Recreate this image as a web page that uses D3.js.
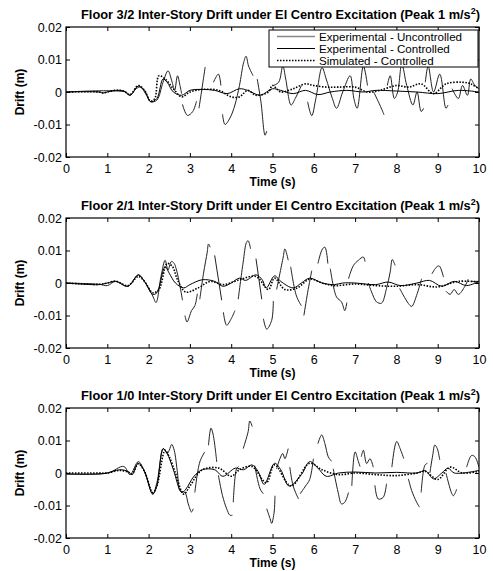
<!DOCTYPE html>
<html><head><meta charset="utf-8">
<script src="https://cdn.jsdelivr.net/npm/d3@7"></script>
<style>body{margin:0;background:#fff}svg{display:block}</style>
</head><body>
<script>
// ---------- data (time s, drift m); null = gap in trace ----------
const titles = ["Floor 3/2 Inter-Story Drift under El Centro Excitation (Peak 1 m/s",
                "Floor 2/1 Inter-Story Drift under El Centro Excitation (Peak 1 m/s",
                "Floor 1/0 Inter-Story Drift under El Centro Excitation (Peak 1 m/s"];
const xTicks = [0,1,2,3,4,5,6,7,8,9,10];
const yTicks = [-0.02,-0.01,0,0.01,0.02];
const yTickLabels = ["-0.02","-0.01","0","0.01","0.02"];
const legendLabels = ["Experimental - Uncontrolled","Experimental - Controlled","Simulated - Controlled"];

const p1Controlled = [[0,0],[0.8,0],[0.9,-0.0003],[1.0,0],[1.2,0.0005],[1.4,0.0003],[1.55,-0.001],[1.75,0.0018],[1.9,0.0005],[2.05,-0.003],[2.2,-0.002],[2.35,0.004],[2.45,0.003],[2.6,0],[2.8,-0.001],[3.0,0.0005],[3.3,0.0008],[3.6,0.0005],[3.9,-0.0005],[4.2,0.001],[4.4,0.0005],[4.7,-0.001],[5.0,0.001],[5.2,0.0005],[5.5,-0.0005],[5.8,0.0005],[6.1,-0.0008],[6.4,0],[6.8,0.0005],[7.2,0],[7.5,0.0005],[8.0,0.0003],[8.5,0],[9.0,-0.0005],[9.5,0.0005],[10,0]];
const p1Simulated = [[0,0],[0.8,0],[0.9,-0.0003],[1.0,0],[1.2,0.0005],[1.4,0.0003],[1.55,-0.0008],[1.75,0.002],[1.9,0.0005],[2.05,-0.0028],[2.15,-0.002],[2.25,0.005],[2.4,0.004],[2.6,0.001],[2.8,-0.0015],[3.0,0],[3.3,0.0008],[3.7,0.0005],[4.0,-0.0015],[4.2,-0.0015],[4.4,0.0005],[4.6,-0.001],[4.9,0],[5.0,0.002],[5.2,0],[5.5,0.001],[5.8,0.0025],[6.0,0.002],[6.3,0.0015],[6.6,0.0015],[7.0,0.0015],[7.3,0],[7.6,0.0005],[8.0,0.002],[8.3,0.0015],[8.6,0.0025],[8.9,-0.0005],[9.2,0.0025],[9.6,0.003],[9.8,0.0025],[10,0.001]];
const p1Uncontrolled = [[0,0],[1.45,0],[1.55,-0.001],[1.7,0.001],[1.8,0.0015],[1.95,-0.001],[2.05,-0.003],[2.2,-0.0025],[2.35,0.003],[2.47,0.0065],[2.57,0.003],[2.63,0.0005],[2.7,0.005],[2.76,0.002],[2.8,-0.0005],null,
  [2.82,-0.0038],[2.94,-0.0072],[3.07,-0.006],[3.16,-0.0028],null,[3.22,-0.005],[3.28,0],[3.37,0.0077],null,
  [3.57,0.003],[3.69,0.0055],[3.75,0.002],null,[3.79,-0.0068],[3.85,-0.01],[3.97,-0.008],[4.09,-0.004],[4.2,0.002],[4.3,0.009],[4.36,0.011],[4.42,0.008],[4.53,0.005],null,
  [4.63,0.004],[4.72,-0.003],[4.82,-0.0133],[4.86,-0.012],null,[5.02,0.002],[5.15,0.003],[5.25,0.008],[5.32,0.004],[5.45,-0.004],[5.55,-0.002],[5.7,0.002],null,
  [5.85,-0.003],[5.95,-0.0073],[6.05,-0.002],[6.2,0.0075],[6.3,0.004],[6.45,-0.002],[6.55,-0.005],[6.7,0],[6.88,0.005],[6.97,-0.002],[7.05,-0.005],[7.2,0.008],[7.3,0.002],null,
  [7.45,0],[7.6,-0.004],[7.7,-0.007],null,[7.78,0.002],[7.85,0.005],[7.95,-0.002],[8.03,0],[8.13,0.0085],[8.25,0.002],[8.4,-0.004],[8.5,0],[8.6,-0.006],[8.66,-0.005],null,
  [8.7,0.003],[8.77,0.008],[8.9,0],[9.05,0.0055],[9.2,-0.005],[9.25,-0.004],null,[9.35,0.001],[9.5,-0.002],[9.6,0.002],[9.72,-0.001],[9.8,0.004],[9.9,0.002],[10,0.001]];

const p2Controlled = [[0,0],[0.8,-0.0005],[1.0,0],[1.2,0.0005],[1.5,-0.001],[1.75,0.0025],[1.9,0.0005],[2.1,-0.0035],[2.2,-0.003],[2.4,0.005],[2.5,0.003],[2.65,0],[2.85,-0.0015],[3.0,-0.0005],[3.3,0.001],[3.6,0.0005],[3.8,-0.001],[4.0,0],[4.2,0.0015],[4.35,0.0008],[4.6,0.0025],[4.75,0.001],[4.85,-0.0015],[5.05,0.0022],[5.2,0.0005],[5.5,-0.0015],[5.7,0],[5.9,0.0015],[6.2,0],[6.5,-0.0005],[6.7,0],[7.0,0],[7.5,-0.0005],[7.8,0.0003],[8.1,-0.0008],[8.5,0],[8.8,0.0008],[9.1,-0.001],[9.4,0.0005],[9.7,-0.0008],[10,0.0005]];
const p2Simulated = [[0,0],[0.8,-0.0004],[1.0,0],[1.2,0.0006],[1.5,-0.0008],[1.75,0.002],[1.9,0.0005],[2.1,-0.003],[2.25,-0.002],[2.45,0.006],[2.58,0.005],[2.7,0.001],[2.9,-0.0028],[3.2,-0.0015],[3.5,0.0005],[3.8,-0.0005],[4.2,0.001],[4.6,0.002],[4.9,-0.002],[5.05,0.0015],[5.3,-0.002],[5.6,-0.0015],[5.9,0.0012],[6.2,0],[6.5,-0.0008],[7.0,-0.0003],[7.5,-0.0008],[8.0,-0.001],[8.5,-0.0005],[9.0,-0.0012],[9.5,0.0005],[10,0.0003]];
const p2Uncontrolled = [[0,0],[0.8,-0.0004],[1.0,-0.0008],[1.2,0.0005],[1.5,-0.001],[1.75,0.0025],[1.9,0.0005],[2.1,-0.004],[2.18,-0.006],[2.3,0.002],[2.4,0.007],[2.47,0.004],[2.55,0.0066],[2.62,0.006],[2.82,-0.0053],null,
  [2.88,-0.01],[2.93,-0.012],[3.04,-0.0085],[3.12,-0.007],[3.18,-0.0033],null,[3.24,-0.005],[3.33,0.003],[3.42,0.0095],[3.45,0.012],[3.49,0.011],null,
  [3.6,0.0085],[3.77,-0.0053],null,[3.81,-0.009],[3.89,-0.013],[4.0,-0.011],[4.09,-0.0085],null,[4.17,-0.005],[4.29,0.0064],[4.37,0.0125],[4.41,0.013],[4.47,0.0105],null,
  [4.6,0.0075],[4.74,-0.005],null,[4.78,-0.011],[4.86,-0.0142],[4.98,-0.0115],[5.02,-0.0055],null,[5.1,-0.002],[5.26,0.008],[5.3,0.0105],[5.38,0.007],null,
  [5.44,0.005],[5.58,-0.004],[5.7,-0.007],null,[5.76,-0.01],[5.85,-0.003],[5.95,0.0038],null,[6.1,0.006],[6.21,0.0105],[6.27,0.011],[6.34,0.006],null,
  [6.4,0.0044],[6.55,-0.0043],[6.67,-0.0058],[6.75,-0.0085],[6.8,-0.006],null,[6.84,0.0013],[6.96,0.0054],[7.08,0.007],[7.2,0.008],[7.24,0.0066],null,
  [7.32,0],[7.4,-0.0028],[7.52,-0.0058],[7.64,-0.0062],[7.76,-0.0017],[7.85,0.0034],[7.9,0.0072],[7.97,0.0054],null,
  [8.08,-0.0017],[8.29,-0.0063],[8.37,-0.0072],[8.49,-0.0038],[8.61,0.0013],null,[8.86,0.0028],[8.98,0.005],[9.04,0.0052],[9.14,0.0018],null,
  [9.2,-0.0025],[9.3,-0.0035],[9.4,-0.002],[9.5,-0.0035],[9.66,-0.001],[9.74,0.0012],null,[9.8,0.0005],[10,0.0005]];

const p3Controlled = [[0,-0.0003],[0.8,-0.0003],[1.0,0],[1.3,0.001],[1.5,0.0005],[1.6,-0.0005],[1.75,0.003],[1.9,0.0005],[2.1,-0.0065],[2.2,-0.004],[2.35,0.0075],[2.45,0.006],[2.6,0.001],[2.8,-0.006],[2.9,-0.005],[3.1,-0.001],[3.3,0.001],[3.6,0.001],[3.8,-0.001],[4.1,0.0015],[4.3,0.001],[4.5,0.0025],[4.65,0.0005],[4.8,-0.0035],[5.05,0.003],[5.2,0.001],[5.4,-0.004],[5.7,-0.0005],[5.9,0.0035],[6.1,0.0015],[6.3,-0.001],[6.6,0],[7.0,0.0003],[7.5,0],[8.0,0.0002],[8.5,0],[8.7,0.0007],[8.9,-0.0018],[9.1,0],[9.25,0.0015],[9.4,0],[10,0.0008]];
const p3Simulated = [[0,0],[0.8,0],[1.0,0],[1.3,0.0008],[1.5,0.0003],[1.6,-0.0003],[1.75,0.0028],[1.9,0.0005],[2.1,-0.006],[2.2,-0.004],[2.4,0.007],[2.5,0.005],[2.65,0],[2.85,-0.0065],[3.0,-0.004],[3.3,0.001],[3.7,0.0015],[4.0,-0.001],[4.2,0.001],[4.5,0.002],[4.85,-0.003],[5.05,0.0025],[5.45,-0.004],[5.9,0.003],[6.2,0.001],[6.6,-0.0005],[7.0,0],[7.5,-0.0005],[8.0,-0.0008],[8.5,0],[8.7,0.0005],[9.0,-0.002],[9.3,0.0018],[9.6,0],[10,0.0005]];
const p3Uncontrolled = [[0,-0.0003],[1.0,0],[1.4,0.002],[1.55,-0.0005],[1.75,0.0035],[1.9,0.0005],[2.1,-0.0065],[2.2,-0.003],[2.36,0.0075],[2.45,0.006],[2.5,0.007],[2.56,0.0088],[2.62,0.007],[2.7,0],[2.76,-0.0054],[2.88,-0.006],[2.96,-0.0095],[3.04,-0.012],[3.08,-0.011],null,
  [3.12,-0.006],[3.24,0.0034],[3.36,0.0065],null,[3.45,0.0085],[3.51,0.0138],[3.56,0.012],[3.65,0.0034],null,
  [3.69,-0.0007],[3.79,-0.007],[3.89,-0.011],[3.97,-0.013],[4.03,-0.013],null,[4.05,-0.009],[4.13,0.0013],[4.18,0.002],null,
  [4.29,0.0075],[4.41,0.0127],[4.45,0.016],[4.51,0.0143],null,[4.57,0.0023],[4.7,-0.0049],[4.78,-0.0064],null,
  [4.86,-0.011],[4.94,-0.014],[4.98,-0.0155],[5.04,-0.012],[5.06,-0.007],null,[5.1,0.0013],[5.18,0.0044],[5.25,0.006],[5.3,0.0044],[5.38,0.0075],null,
  [5.42,0.0018],[5.5,-0.004],[5.63,-0.008],null,[5.67,-0.0064],[5.8,-0.004],[5.9,-0.002],[5.99,0.0044],null,
  [6.1,0.009],[6.19,0.0117],[6.27,0.009],[6.35,0.005],[6.43,0.0036],null,[6.47,0.0013],[6.59,-0.006],[6.67,-0.0095],[6.75,-0.009],[6.84,-0.006],null,
  [6.92,-0.004],[7.0,0.0065],[7.08,0.0035],[7.12,0.002],null,[7.15,0.005],[7.2,0.007],[7.28,0.0029],[7.36,0.0044],[7.44,0.0018],null,
  [7.48,-0.0038],[7.56,-0.008],[7.68,-0.0075],[7.76,-0.0033],null,[7.89,0.0018],[7.97,0.0086],[8.01,0.0097],[8.09,0.0075],[8.18,0.0044],null,
  [8.29,-0.0018],[8.37,-0.0054],[8.49,-0.009],[8.56,-0.0105],null,[8.6,-0.006],[8.69,0.0024],[8.75,0.003],null,
  [8.81,0],[8.88,0.0055],[8.93,0.0086],[8.99,0.0075],[9.05,0.004],null,[9.2,0],[9.34,-0.0063],[9.38,-0.007],[9.46,-0.005],null,
  [9.7,0.0018],[9.82,0.0054],[9.9,0.005],[10,0.0018]];

const panels = [
  {unc:p1Uncontrolled, ctl:p1Controlled, sim:p1Simulated},
  {unc:p2Uncontrolled, ctl:p2Controlled, sim:p2Simulated},
  {unc:p3Uncontrolled, ctl:p3Controlled, sim:p3Simulated}
];

// ---------- layout ----------
const W = 493, H = 571;
const left = 66, right = 479;
const tops = [27, 218, 408];
const ph = 130;
const font = "'Liberation Sans', Arial, Helvetica, sans-serif";

const svg = d3.select("body").append("svg").attr("width", W).attr("height", H)
  .style("font-family", font);

const x = d3.scaleLinear().domain([0,10]).range([left, right]);

panels.forEach((p, i) => {
  const top = tops[i], bot = top + ph;
  const y = d3.scaleLinear().domain([-0.02, 0.02]).range([bot, top]);
  const g = svg.append("g");

  const clipId = "clip" + i;
  svg.append("clipPath").attr("id", clipId).append("rect")
    .attr("x", left).attr("y", top).attr("width", right-left).attr("height", ph);

  const line = d3.line().defined(d => d !== null)
    .x(d => x(d[0])).y(d => y(d[1])).curve(d3.curveCatmullRom.alpha(0.5));

  const plot = g.append("g").attr("clip-path", `url(#${clipId})`);
  plot.append("path").datum(p.unc).attr("d", line)
    .attr("fill","none").attr("stroke","#222").attr("stroke-width",1);
  plot.append("path").datum(p.ctl).attr("d", line)
    .attr("fill","none").attr("stroke","#000").attr("stroke-width",1);
  plot.append("path").datum(p.sim).attr("d", line)
    .attr("fill","none").attr("stroke","#000").attr("stroke-width",1.6)
    .attr("stroke-dasharray","1.5,1.5");

  // axes
  const xb = d3.axisBottom(x).tickValues(xTicks).tickSizeInner(-4).tickSizeOuter(0).tickPadding(7).tickFormat(d3.format("d"));
  const xt = d3.axisTop(x).tickValues(xTicks).tickSizeInner(-4).tickSizeOuter(0).tickFormat("");
  const yl = d3.axisLeft(y).tickValues(yTicks).tickSizeInner(-4).tickSizeOuter(0).tickPadding(4).tickFormat((d,k)=>yTickLabels[k]);
  const yr = d3.axisRight(y).tickValues(yTicks).tickSizeInner(-4).tickSizeOuter(0).tickFormat("");

  const styleAxis = sel => {
    sel.select(".domain").remove();
    sel.selectAll("line").attr("stroke","#000").attr("stroke-width",1);
    sel.selectAll("text").attr("fill","#000").style("font-size","12.5px").style("font-family", font);
  };
  g.append("g").attr("transform",`translate(0,${bot})`).call(xb).call(styleAxis);
  g.append("g").attr("transform",`translate(0,${top})`).call(xt).call(styleAxis);
  g.append("g").attr("transform",`translate(${left},0)`).call(yl).call(styleAxis);
  g.append("g").attr("transform",`translate(${right},0)`).call(yr).call(styleAxis);

  g.append("rect").attr("x", left).attr("y", top).attr("width", right-left).attr("height", ph)
    .attr("fill","none").attr("stroke","#000").attr("stroke-width",1.2);

  // title
  const t = g.append("text").attr("x", (left+right)/2 + 8).attr("y", top - 8)
    .attr("text-anchor","middle").style("font-size","12.8px").style("font-weight","bold");
  t.append("tspan").text(titles[i]);
  t.append("tspan").attr("dy",-5).style("font-size","9px").text("2");
  t.append("tspan").attr("dy",5).text(")");

  // axis labels
  g.append("text").attr("x",(left+right)/2).attr("y", bot + 29)
    .attr("text-anchor","middle").style("font-size","12px").style("font-weight","bold").text("Time (s)");
  g.append("text").attr("transform",`translate(24,${top+ph/2}) rotate(-90)`)
    .attr("text-anchor","middle").style("font-size","12px").style("font-weight","bold").text("Drift (m)");

  // legend only first panel
  if (i === 0) {
    const lx = 269, ly = 30, lw = 209, lh = 37;
    g.append("rect").attr("x",lx).attr("y",ly).attr("width",lw).attr("height",lh)
      .attr("fill","#fff").attr("stroke","#000").attr("stroke-width",1);
    const styles = [{c:"#888",w:1.6,d:null},{c:"#000",w:1,d:null},{c:"#000",w:1.6,d:"1.5,1.5"}];
    legendLabels.forEach((lab,k) => {
      const yy = ly + 6.5 + k*12;
      const l = g.append("line").attr("x1",lx+8).attr("x2",lx+46).attr("y1",yy).attr("y2",yy)
        .attr("stroke",styles[k].c).attr("stroke-width",styles[k].w);
      if (styles[k].d) l.attr("stroke-dasharray",styles[k].d);
      g.append("text").attr("x",lx+50).attr("y",yy+4).style("font-size","11.6px").text(lab);
    });
  }
});
</script>
</body></html>
